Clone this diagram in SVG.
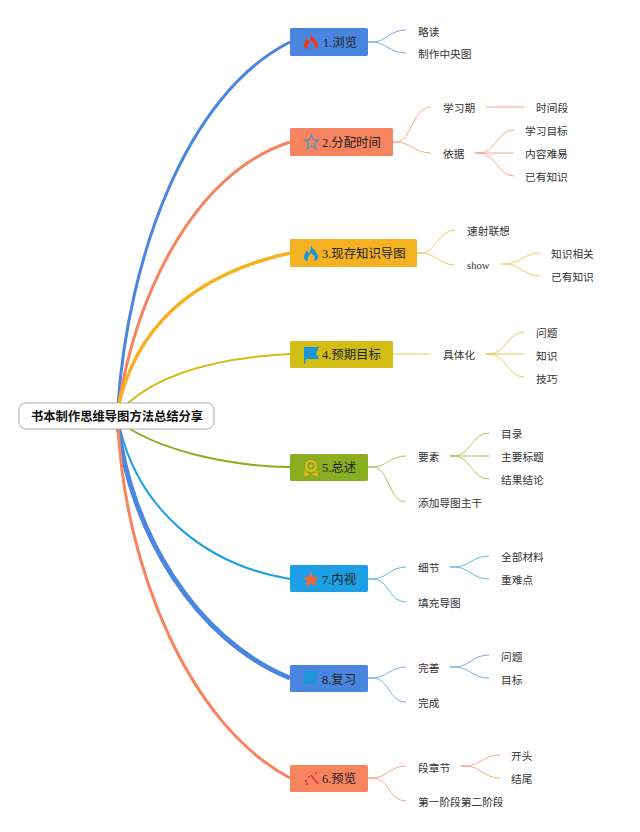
<svg xmlns="http://www.w3.org/2000/svg" width="640" height="832" viewBox="0 0 640 832">
<style>
text{font-family:"Liberation Serif","Noto Sans CJK SC",serif;fill:#333}
.l{font-size:10.7px;dominant-baseline:central}
.n{font-size:12.4px;fill:#222;dominant-baseline:central}
.r{font-size:12.3px;font-weight:700;fill:#111;dominant-baseline:central;font-family:"Liberation Sans","Noto Sans CJK SC",sans-serif}
.c path{fill:none}
.blue{stroke:#4a86e0}.org{stroke:#f5845f}.yel{stroke:#f4b223}.ol{stroke:#d2bd14}.grn{stroke:#8aad22}.sky{stroke:#1c9fe4}
.s{opacity:.7}
</style>
<rect width="640" height="832" fill="#fff"/>
<g id="connectors" class="c">
<path class="blue" stroke-width="3" d="M118 405C128 260 185 95 290 42"/>
<path class="org" stroke-width="3" d="M118 408C138 285 198 172 290 142"/>
<path class="yel" stroke-width="3.500" d="M118 408C135 330 190 275 290 253"/>
<path class="ol" stroke-width="2" d="M128 403C160 375 215 358 290 354"/>
<path class="grn" stroke-width="2" d="M130 429C165 450 225 466 290 467"/>
<path class="sky" stroke-width="2" d="M120 429C140 510 205 565 290 579"/>
<path class="blue" stroke-width="5" d="M118 425C130 530 195 640 290 678"/>
<path class="org" stroke-width="3" d="M118 425C125 570 190 725 290 778"/>
<g class="s">
<path class="blue" stroke-width="1" d="M368 42H373C385 42 390 30 406 30M368 42H373C385 42 390 53 406 53"/>
<path class="org" stroke-width="1" d="M393 142H396C412 142 412 107 431 107M393 142H396C410 142 415 153 431 153M486 107H524M475 153H480C495 153 498 130 514 130M475 153H514M475 153H480C495 153 498 176 514 176"/>
<path class="yel" stroke-width="1" d="M417 253H421C436 253 438 230 455 230M417 253H421C436 253 440 265 455 265M501 264H505C520 264 524 253 540 253M501 264H505C520 264 524 276 540 276"/>
<path class="ol" stroke-width="1" d="M393 354H431M486 354H490C505 354 508 332 524 332M486 354H524M486 354H490C505 354 508 377 524 377"/>
<path class="grn" stroke-width="1" d="M368 467H372C387 467 390 456 406 456M368 467H372C390 467 388 502 406 502M450 456H454C470 456 472 433 489 433M450 456H489M450 456H454C470 456 472 479 489 479"/>
<path class="sky" stroke-width="1" d="M368 579H372C387 579 390 567 406 567M368 579H372C390 579 388 602 406 602M450 567H454C470 567 472 556 489 556M450 567H454C470 567 472 579 489 579"/>
<path class="blue" stroke-width="1" d="M368 678H372C387 678 390 667 406 667M368 678H372C390 678 388 702 406 702M450 667H454C470 667 472 655 489 655M450 667H454C470 667 472 678 489 678"/>
<path class="org" stroke-width="1" d="M368 778H372C387 778 390 766 406 766M368 778H372C390 778 388 801 406 801M461 766H465C481 766 483 755 500 755M461 766H465C481 766 483 778 500 778"/>
</g>
</g>
<g id="root"><rect x="19" y="403" width="195" height="26" rx="7" fill="#fff" stroke="#aaa" stroke-width="1"/><text class="r" x="31" y="416.500">书本制作思维导图方法总结分享</text></g>
<g id="n1"><rect x="290" y="28" width="78" height="28" rx="1.5" fill="#4a86e0"/><path d="M311 34C312 38 318 41 318 45C318 48 315 49 314 49C316 46 314 43 311 41C309 43 307 46 308 49C306 49 304 48 304 45C304 42 306 40 307 38C308 40 308 41 309 42C310 40 311 37 311 34Z" fill="#ee3a1c"/><text class="n" x="323" y="43">1.浏览</text></g>
<g id="n2"><rect x="290" y="128" width="103" height="28" rx="1.5" fill="#f5845f"/><path d="M311.500 135L313.500 140H318.500L314.500 143.500L316 149L311.500 146L307 149L308.500 143.500L304.500 140H309.500Z" fill="none" stroke="#6a8fb0" stroke-width="1.500"/><text class="n" x="322" y="143">2.分配时间</text></g>
<g id="n3"><rect x="290" y="239" width="127" height="28" rx="1.5" fill="#f4b223"/><path d="M311 245C312 249 318 252 318 257C318 260 315 261 314 261C316 258 314 255 311 253C309 255 307 258 308 261C306 261 304 260 304 257C304 254 306 252 307 250C308 252 308 253 309 254C310 252 311 249 311 245Z" fill="#1c95dc"/><text class="n" x="322" y="254">3.现存知识导图</text></g>
<g id="n4"><rect x="290" y="341" width="103" height="27" rx="1.5" fill="#d2bd14"/><path d="M304 347H319L316 353L319 359H306L305 364L304 364Z" fill="#1c95dc"/><text class="n" x="322" y="355">4.预期目标</text></g>
<g id="n5"><rect x="290" y="454" width="78" height="27" rx="1.5" fill="#8aad22"/><circle cx="311" cy="466" r="5" fill="none" stroke="#e8b81c" stroke-width="2"/><circle cx="311" cy="466" r="1.500" fill="#e8b81c"/><path d="M306 471L305 475L309 474M316 471L317 475L313 474" fill="none" stroke="#e8b81c" stroke-width="2"/><text class="n" x="322" y="468">5.总述</text></g>
<g id="n7"><rect x="290" y="565" width="78" height="27" rx="1.5" fill="#1c9fe4"/><path d="M311 572L313.500 577H319L315 581L316.500 586.500L311 583.500L305.500 586.500L307 581L303 577H308.500Z" fill="#e8683c"/><text class="n" x="322" y="580">7.内视</text></g>
<g id="n8"><rect x="290" y="665" width="78" height="27" rx="1.5" fill="#4a86e0"/><rect x="304" y="671" width="13" height="13" fill="#1c95dc"/><text class="n" x="322" y="680">8.复习</text></g>
<g id="n6"><rect x="290" y="765" width="78" height="27" rx="1.5" fill="#f5845f"/><path d="M311 775L318 784" stroke="#e8284c" stroke-width="1.500" fill="none"/><circle cx="306" cy="781" r="1.200" fill="#e8284c"/><circle cx="309" cy="777" r="1" fill="#e8284c"/><circle cx="316" cy="773" r="1" fill="#e8284c"/><circle cx="307" cy="784" r="1" fill="#e8284c"/><text class="n" x="322" y="779">6.预览</text></g>
<g id="labels">
<text class="l" x="418" y="32">略读</text><text class="l" x="418" y="54">制作中央图</text>
<text class="l" x="443" y="108">学习期</text><text class="l" x="536" y="108">时间段</text><text class="l" x="443" y="154">依据</text><text class="l" x="525" y="131">学习目标</text><text class="l" x="525" y="154">内容难易</text><text class="l" x="525" y="177">已有知识</text>
<text class="l" x="467" y="231">速射联想</text><text class="l" x="467" y="265">show</text><text class="l" x="551" y="254">知识相关</text><text class="l" x="551" y="277">已有知识</text>
<text class="l" x="443" y="355">具体化</text><text class="l" x="536" y="333">问题</text><text class="l" x="536" y="356">知识</text><text class="l" x="536" y="379">技巧</text>
<text class="l" x="418" y="457">要素</text><text class="l" x="418" y="503">添加导图主干</text><text class="l" x="501" y="434">目录</text><text class="l" x="501" y="457">主要标题</text><text class="l" x="501" y="480">结果结论</text>
<text class="l" x="418" y="568">细节</text><text class="l" x="418" y="603">填充导图</text><text class="l" x="501" y="557">全部材料</text><text class="l" x="501" y="580">重难点</text>
<text class="l" x="418" y="668">完善</text><text class="l" x="418" y="703">完成</text><text class="l" x="501" y="657">问题</text><text class="l" x="501" y="680">目标</text>
<text class="l" x="418" y="768">段章节</text><text class="l" x="418" y="802">第一阶段第二阶段</text><text class="l" x="511" y="756">开头</text><text class="l" x="511" y="779">结尾</text>
</g>
</svg>
